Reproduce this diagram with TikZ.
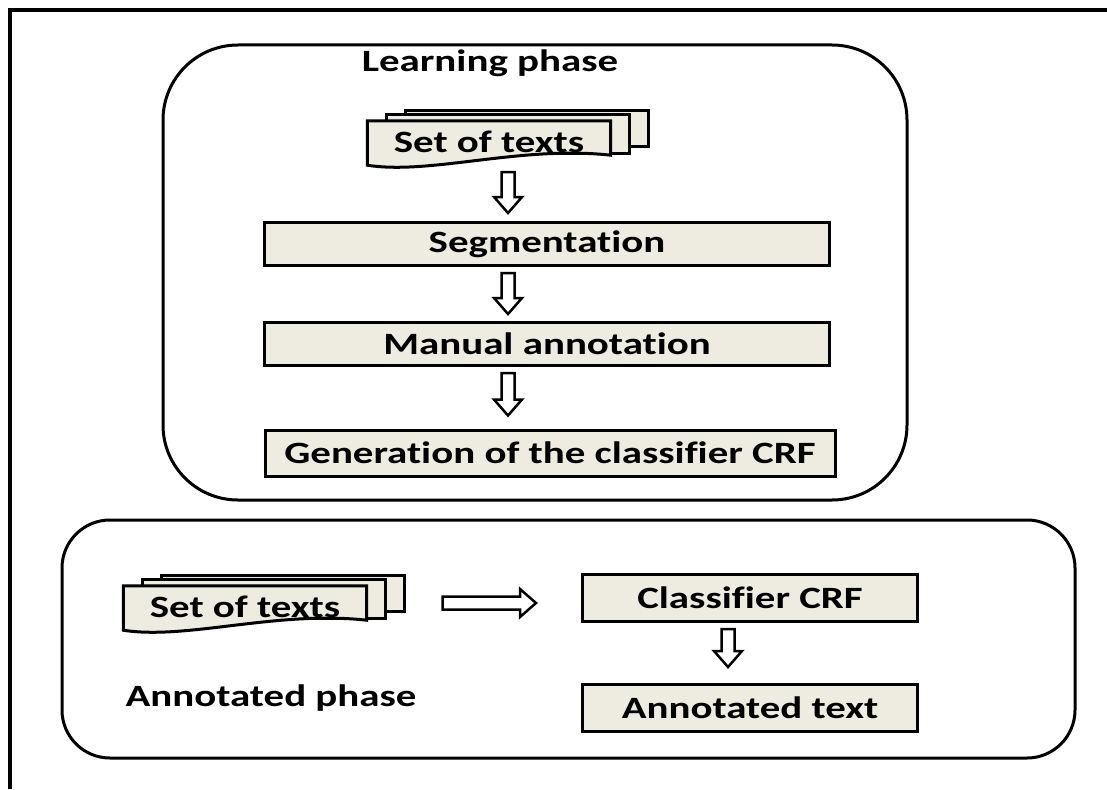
\documentclass[tikz,border=0pt]{standalone}
\usepackage{fontspec}
\setmainfont{Carlito}[FakeStretch=1.32,Ligatures=NoCommon]
\usetikzlibrary{calc,backgrounds}
\definecolor{boxfill}{HTML}{EEECE1}

% stack of three sheets behind a text node
\newcommand{\docstack}[1]{%
  \begin{scope}[on background layer]
    \draw[sheet] ($(#1.north west)+(38,-10)$) rectangle ($(#1.south east)+(38,-17)$);
    \draw[sheet] ($(#1.north west)+(19,-6)$) rectangle ($(#1.south east)+(19,-10)$);
    \draw[sheet] (#1.north west) -- (#1.north east) -- ($(#1.south east)+(0,-8)$)
      .. controls +(-90,-10) and +(63,10) .. ($(#1.south west)+(0,2)$) -- cycle;
  \end{scope}}

% hollow block arrow from #1 to #2
\newcommand{\blockarrow}[2]{%
  \draw[hollow] let \p1=(#1), \p2=(#2),
    \n1={atan2(\y2-\y1,\x2-\x1)}, \n2={veclen(\x2-\x1,\y2-\y1)} in
    [shift={(\p1)}, rotate=\n1]
    (0pt,-6.5pt) -- ({\n2*1pt-16pt},-6.5pt) -- ({\n2*1pt-16pt},-14pt) -- ({\n2*1pt},0pt)
    -- ({\n2*1pt-16pt},14pt) -- ({\n2*1pt-16pt},6.5pt) -- (0pt,6.5pt) -- cycle;}

\begin{document}
\begin{tikzpicture}[x=1pt,y=-1pt,
  font=\fontsize{31}{36}\selectfont\bfseries,
  box/.style={draw,line width=3pt,fill=boxfill,inner sep=0pt},
  sheet/.style={draw,line width=3pt,fill=boxfill},
  doctext/.style={inner sep=0pt,minimum width=243pt,minimum height=42pt},
  phase/.style={draw,line width=3pt},
  hollow/.style={draw,line width=2.5pt,fill=white,line join=miter}]
\useasboundingbox (0,0) rectangle (1107,789);

% frame
\draw[line width=4pt] (10,789) -- (10,10) -- (1107,10);

% the two phases
\draw[phase,rounded corners=75pt] (163,45) rectangle (907,500);
\draw[phase,rounded corners=48pt] (62,520) rectangle (1075,758);
\node (learnlabel) at (490,63) {Learning phase};
\node (annotlabel) at (271,698) {Annotated phase};

% learning phase
\node[doctext] (texts1) at (489,142) {Set of texts};
\docstack{texts1}
\node[box,minimum width=565pt,minimum height=43pt] (seg) at (547,244) {Segmentation};
\node[box,minimum width=565pt,minimum height=43pt] (manual) at (547,344) {Manual annotation};
\node[box,minimum width=570pt,minimum height=46pt] (gen) at (550,453) {Generation of the classifier CRF};

\coordinate (ax) at (508,0);
\blockarrow{$(texts1.south -| ax)+(0,9)$}{$(seg.north -| ax)+(0,-8)$}
\blockarrow{$(seg.south -| ax)+(0,6)$}{$(manual.north -| ax)+(0,-7)$}
\blockarrow{$(manual.south -| ax)+(0,6)$}{$(gen.north -| ax)+(0,-13)$}

% annotated phase
\node[doctext] (texts2) at (245,607) {Set of texts};
\docstack{texts2}
\node[box,minimum width=335pt,minimum height=47pt] (crf) at (750,598) {Classifier CRF};
\node[box,minimum width=335pt,minimum height=47pt] (annot) at (750,708) {Annotated text};

\coordinate (bx) at (728,0);
\blockarrow{$(texts2.east)+(76,-4)$}{$(crf.west |- texts2.east)+(-45,-4)$}
\blockarrow{$(crf.south -| bx)+(0,6)$}{$(annot.north -| bx)+(0,-16)$}
\end{tikzpicture}
\end{document}
